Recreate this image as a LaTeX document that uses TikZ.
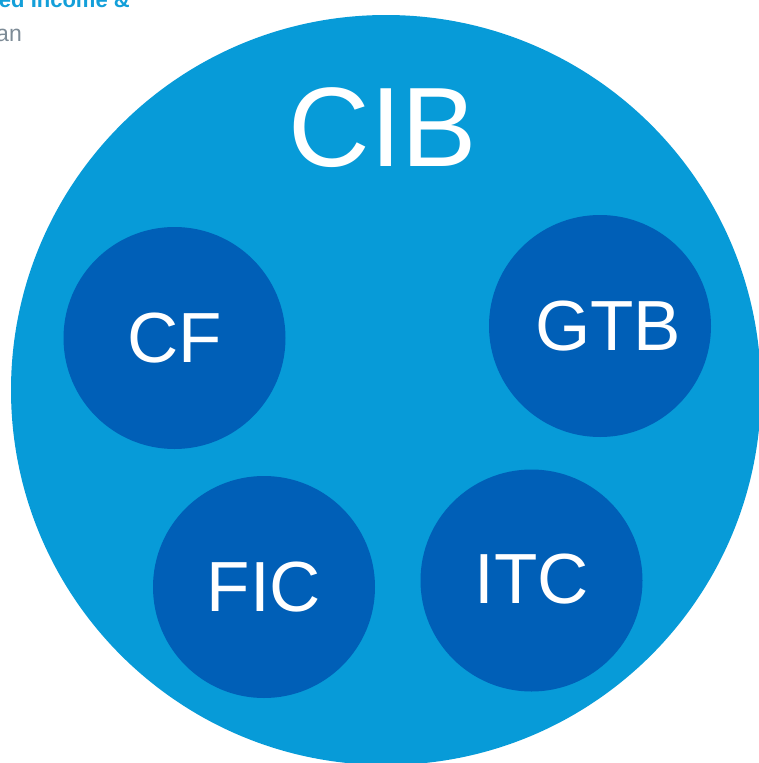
\documentclass[tikz,border=0pt]{standalone}
\usepackage{fontspec}
\setmainfont{Liberation Sans}
\usetikzlibrary{positioning}

\definecolor{cibblue}{HTML}{079BD8}
\definecolor{unitblue}{HTML}{005FB7}
\definecolor{headblue}{HTML}{139FD9}
\definecolor{subgray}{HTML}{7D8B96}

\tikzset{
  bigdisc/.style={circle, fill=cibblue, minimum size=750pt, inner sep=0pt},
  unitdisc/.style={circle, fill=unitblue, minimum size=222pt, inner sep=0pt, text=white, font=\fontsize{71}{71}\selectfont},
  ciblabel/.style={text=white, inner sep=0pt, font=\fontsize{113}{113}\selectfont}
}

\begin{document}
\begin{tikzpicture}[x=1pt,y=-1pt]
\useasboundingbox (0,0) rectangle (759,763);
\clip (0,0) rectangle (759,763);

%cut off text from the slide
\node[anchor=base east, inner sep=0pt, text=headblue, font=\fontsize{22}{22}\selectfont\bfseries] (headtext) at (130,7) {ed Income \&};
\node[anchor=base east, inner sep=0pt, text=subgray, font=\fontsize{23}{23}\selectfont] (subtext) at (22,41) {an};

%draw the outer circle
\node[bigdisc] (cib) at (386,390) {};
\node[ciblabel] (cibtext) at (383,128) {CIB};

%draw the four units
\node[unitdisc] (cf) at (174.5,338) {CF};
\node[unitdisc] (gtb) at (600,326) {\hspace{16pt}GTB};
\node[unitdisc] (fic) at (264,587) {FIC};
\node[unitdisc] (itc) at (531.5,580.5) {\raisebox{4pt}{ITC}};

\end{tikzpicture}
\end{document}
